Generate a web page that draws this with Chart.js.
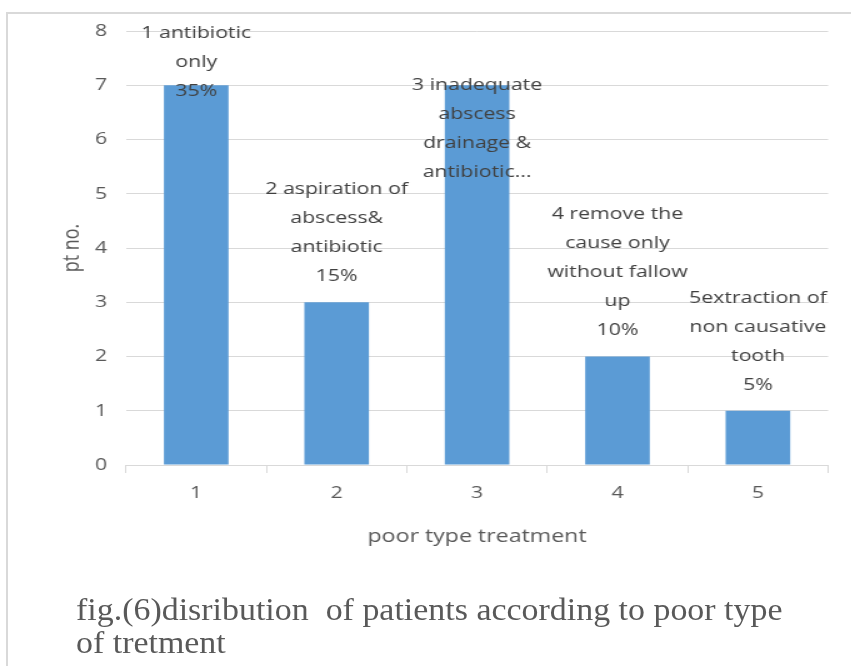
<!DOCTYPE html>
<html>
<head>
<meta charset="utf-8">
<script src="https://cdn.jsdelivr.net/npm/chart.js@4.4.0/dist/chart.umd.min.js"></script>
<style>
  html, body { margin: 0; padding: 0; background: #fff; }
  #wrap { position: relative; width: 851px; height: 666px; overflow: hidden; }
  #frame { position: absolute; left: 6px; top: 12px; width: 860px; height: 700px;
           border-left: 2px solid #d9d9d9; border-top: 2px solid #d9d9d9; }
  /* la figura original esta estirada a lo ancho */
  #stretch { position: absolute; left: 0; top: 0; width: 681px; height: 666px;
             transform: scaleX(1.25); transform-origin: 0 0; }
  #caption { position: absolute; left: 76px; top: 593px; font-family: "Liberation Serif", serif;
             font-size: 32px; line-height: 33px; color: #595959; white-space: pre;
             transform: scaleX(1.06); transform-origin: 0 0; }
</style>
</head>
<body>
<div id="wrap">
  <div id="frame"></div>
  <div id="stretch">
    <canvas id="poorChart" width="681" height="666"></canvas>
  </div>
  <div id="caption">fig.(6)disribution  of patients according to poor type
of tretment</div>
</div>
<script>
// categorias y valores
var categorias = ['1', '2', '3', '4', '5'];
var pacientes = [7, 3, 7, 2, 1];
var etiquetas = [
    ['1 antibiotic', 'only', '35%'],
    ['2 aspiration of', 'abscess&', 'antibiotic', '15%'],
    ['3 inadequate', 'abscess', 'drainage &', 'antibiotic...'],
    ['4 remove the', 'cause only', 'without fallow', 'up', '10%'],
    ['5extraction of', 'non causative', 'tooth', '5%']
];
var ticksY = [0, 1, 2, 3, 4, 5, 6, 7, 8];
// donde se coloca cada etiqueta
var lugarEtiqueta = ['top', 'above', 'bar', 'above', 'above'];

var fuente = "'Open Sans', sans-serif";

// plugin para dibujar las etiquetas de varias lineas
var etiquetasPlugin = {
    id: 'etiquetas',
    afterDatasetsDraw: function(chart) {
        var ctx = chart.ctx;
        var meta = chart.getDatasetMeta(0);
        var alto = 29;
        ctx.save();
        ctx.font = '17px ' + fuente;
        ctx.fillStyle = '#404040';
        ctx.textAlign = 'center';
        ctx.textBaseline = 'middle';
        meta.data.forEach(function(bar, i) {
            var lineas = etiquetas[i];
            var y0;
            if (lugarEtiqueta[i] === 'top') {
                y0 = chart.chartArea.top + 2;
            } else if (lugarEtiqueta[i] === 'bar') {
                y0 = bar.y;
            } else {
                y0 = bar.y - 26 - (lineas.length - 1) * alto;
            }
            lineas.forEach(function(t, k) {
                ctx.fillText(t, bar.x, y0 + k * alto);
            });
        });
        ctx.restore();
    }
};

var ctx = document.getElementById('poorChart').getContext('2d');

var poorChart = new Chart(ctx, {
    type: 'bar',
    data: {
        labels: categorias,
        datasets: [{
            label: 'pt no.',
            data: pacientes,
            backgroundColor: '#5b9bd5',
            categoryPercentage: 1,
            barPercentage: 0.46
        }]
    },
    options: {
        responsive: false,
        animation: false,
        layout: { padding: { top: 31, right: 18.5, bottom: 101, left: 0 } },
        plugins: {
            legend: { display: false },
            tooltip: { enabled: false }
        },
        scales: {
            x: {
                afterFit: function(scale) { scale.height = 100; },
                grid: {
                    offset: true,
                    drawOnChartArea: false,
                    color: '#d9d9d9',
                    tickLength: 8
                },
                border: { color: '#d9d9d9', width: 1 },
                ticks: { color: '#595959', font: { size: 17, family: fuente }, padding: 10 },
                title: {
                    display: true,
                    text: 'poor type treatment',
                    color: '#595959',
                    font: { size: 18.5, family: fuente },
                    padding: { top: 0, bottom: 17 }
                }
            },
            y: {
                min: 0,
                max: 8,
                afterFit: function(scale) { scale.width = 100.8; },
                afterBuildTicks: function(scale) {
                    scale.ticks = ticksY.map(function(v) { return { value: v }; });
                },
                grid: { color: '#d9d9d9', drawTicks: false },
                border: { display: false },
                ticks: { color: '#595959', font: { size: 17, family: fuente }, padding: 15 },
                title: {
                    display: true,
                    text: 'pt no.',
                    color: '#595959',
                    font: { size: 18, family: fuente },
                    padding: { top: 47, bottom: 0 }
                }
            }
        }
    },
    plugins: [etiquetasPlugin]
});
</script>
</body>
</html>
